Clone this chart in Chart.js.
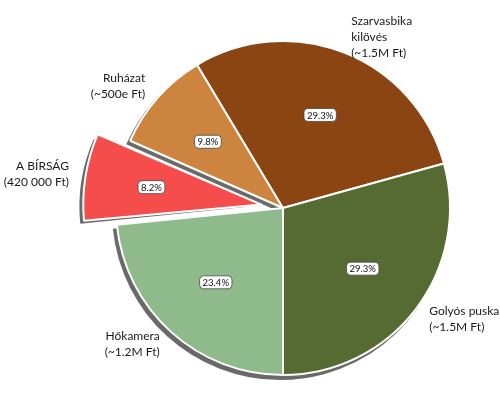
<!DOCTYPE html>
<html>
<head>
<meta charset="utf-8">
<script src="https://cdn.jsdelivr.net/npm/chart.js@4"></script>
<style>
  html, body { margin: 0; padding: 0; background: #fff; }
  #wrap { width: 500px; height: 410px; }
</style>
</head>
<body>
<div id="wrap"><canvas id="pieChart" width="500" height="410"></canvas></div>
<script>
// clockwise from the bottom (6 o'clock)
const labels = [
    ['Hőkamera', '(~1.2M Ft)'],
    ['A BÍRSÁG', '(420 000 Ft)'],
    ['Ruházat', '(~500e Ft)'],
    ['Szarvasbika', 'kilövés', '(~1.5M Ft)'],
    ['Golyós puska', '(~1.5M Ft)']
];
const shares = [23.4, 8.2, 9.8, 29.3, 29.3];
const pctLabels = ['23.4%', '8.2%', '9.8%', '29.3%', '29.3%'];
const colors = ['#8fbb8c', '#f54c4c', '#cd843f', '#8a4513', '#566b31'];
const explode = [0, 33, 0, 0, 0]; // wanted shift in px

const FONT = 'Lato, "Open Sans", "DejaVu Sans", sans-serif';

// Chart.js moves an arc by offset/4 * (1 + fix), fix depends on the arc size
function arcFix(share) {
    const circ = share / 100 * Math.PI * 2;
    return 1 - Math.sin(Math.min(Math.PI, circ));
}
const chartOffsets = explode.map((e, i) => e * 4 / (1 + arcFix(shares[i])));

function realOffset(arc, i) {
    return (arc.options.offset || 0) / 4 * (1 + arcFix(shares[i]));
}

// gray drop shadow under the wedges
const shadowPlugin = {
    id: 'pieShadow',
    beforeDatasetsDraw(chart) {
        const ctx = chart.ctx;
        const meta = chart.getDatasetMeta(0);
        ctx.save();
        ctx.fillStyle = 'rgba(90, 90, 90, 0.9)';
        meta.data.forEach((arc, i) => {
            const p = arc.getProps(['x', 'y', 'startAngle', 'endAngle', 'outerRadius'], true);
            const mid = (p.startAngle + p.endAngle) / 2;
            const off = realOffset(arc, i);
            const cx = p.x + Math.cos(mid) * off - 3;
            const cy = p.y + Math.sin(mid) * off + 4;
            ctx.beginPath();
            ctx.moveTo(cx, cy);
            ctx.arc(cx, cy, p.outerRadius + 1, p.startAngle, p.endAngle);
            ctx.closePath();
            ctx.fill();
        });
        ctx.restore();
    }
};

function roundRect(ctx, x, y, w, h, r) {
    ctx.beginPath();
    ctx.moveTo(x + r, y);
    ctx.arcTo(x + w, y, x + w, y + h, r);
    ctx.arcTo(x + w, y + h, x, y + h, r);
    ctx.arcTo(x, y + h, x, y, r);
    ctx.arcTo(x, y, x + w, y, r);
    ctx.closePath();
}

// outside labels + percentage boxes, placed like matplotlib's pie
const labelPlugin = {
    id: 'pieLabels',
    afterDatasetsDraw(chart) {
        const ctx = chart.ctx;
        const meta = chart.getDatasetMeta(0);
        ctx.save();
        meta.data.forEach((arc, i) => {
            const p = arc.getProps(['x', 'y', 'startAngle', 'endAngle', 'outerRadius'], true);
            const mid = (p.startAngle + p.endAngle) / 2;
            const off = realOffset(arc, i);
            const cx = p.x + Math.cos(mid) * off;
            const cy = p.y + Math.sin(mid) * off;
            const r = p.outerRadius;

            // category label
            const lx = cx + Math.cos(mid) * r * 1.1;
            const ly = cy + Math.sin(mid) * r * 1.1;
            const lines = labels[i];
            const lh = 16;
            ctx.font = '12px ' + FONT;
            ctx.fillStyle = '#1a1a1a';
            ctx.textAlign = Math.cos(mid) >= 0 ? 'left' : 'right';
            ctx.textBaseline = 'middle';
            lines.forEach((t, k) => {
                ctx.fillText(t, lx, ly + (k - (lines.length - 1) / 2) * lh);
            });

            // percentage box
            const px = cx + Math.cos(mid) * r * 0.6;
            const py = cy + Math.sin(mid) * r * 0.6;
            ctx.font = '9.5px ' + FONT;
            const w = ctx.measureText(pctLabels[i]).width + 6;
            const h = 13;
            roundRect(ctx, px - w / 2, py - h / 2, w, h, 4);
            ctx.fillStyle = '#ffffff';
            ctx.fill();
            ctx.lineWidth = 0.8;
            ctx.strokeStyle = '#444';
            ctx.stroke();
            ctx.fillStyle = '#111';
            ctx.textAlign = 'center';
            ctx.fillText(pctLabels[i], px, py + 0.5);
        });
        ctx.restore();
    }
};

new Chart(document.getElementById('pieChart'), {
    type: 'pie',
    data: {
        labels: labels.map(l => l.join(' ')),
        datasets: [{
            data: shares,
            backgroundColor: colors,
            borderColor: '#ffffff',
            borderWidth: 2,
            offset: chartOffsets,
            radius: 167
        }]
    },
    options: {
        responsive: false,
        animation: false,
        rotation: 180,
        layout: { padding: { left: 66, right: 0, top: 6, bottom: 0 } },
        plugins: {
            legend: { display: false },
            tooltip: { enabled: false }
        }
    },
    plugins: [shadowPlugin, labelPlugin]
});
</script>
</body>
</html>
